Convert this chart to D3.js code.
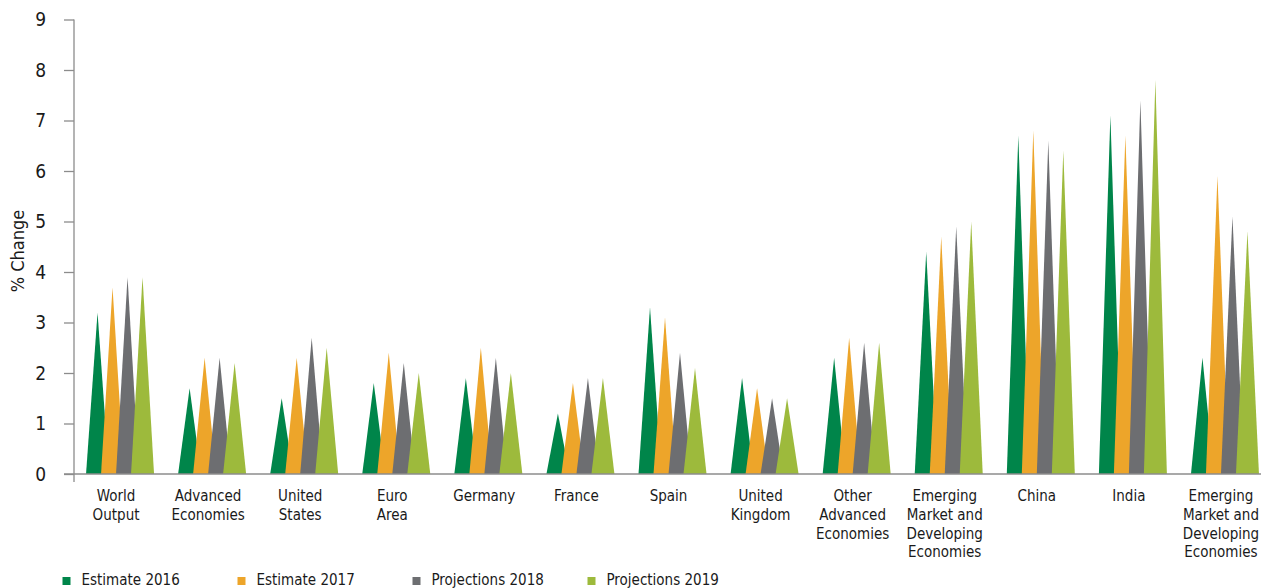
<!DOCTYPE html>
<html>
<head>
<meta charset="utf-8">
<script src="https://cdn.jsdelivr.net/npm/d3@7"></script>
<style>
  html, body { margin: 0; padding: 0; background: #fff; }
  svg { display: block; }
  .lbl { font-family: "Liberation Sans Narrow", "DejaVu Sans Condensed", "Noto Sans", sans-serif; fill: #1a1a1a; }
</style>
</head>
<body>
<script>
// Growth by region, % change
const categories = [
  "World|Output", "Advanced|Economies", "United|States", "Euro|Area", "Germany",
  "France", "Spain", "United|Kingdom", "Other|Advanced|Economies",
  "Emerging|Market and|Developing|Economies", "China", "India",
  "Emerging|Market and|Developing|Economies"
];
const seriesNames = ["Estimate 2016", "Estimate 2017", "Projections 2018", "Projections 2019"];
const est2016  = [3.2, 1.7, 1.5, 1.8, 1.9, 1.2, 3.3, 1.9, 2.3, 4.4, 6.7, 7.1, 2.3];
const est2017  = [3.7, 2.3, 2.3, 2.4, 2.5, 1.8, 3.1, 1.7, 2.7, 4.7, 6.8, 6.7, 5.9];
const proj2018 = [3.9, 2.3, 2.7, 2.2, 2.3, 1.9, 2.4, 1.5, 2.6, 4.9, 6.6, 7.4, 5.1];
const proj2019 = [3.9, 2.2, 2.5, 2.0, 2.0, 1.9, 2.1, 1.5, 2.6, 5.0, 6.4, 7.8, 4.8];
const yTicks = [0, 1, 2, 3, 4, 5, 6, 7, 8, 9];
const colors = ["#00854a", "#eda52a", "#6d6e71", "#9dba3c"];

const seriesValues = [est2016, est2017, proj2018, proj2019];

const W = 1261, H = 588;
const svg = d3.select("body").append("svg").attr("width", W).attr("height", H);

const x0 = d3.scaleBand().domain(d3.range(categories.length)).range([74, 1271]);
const x1 = d3.scaleBand().domain(seriesNames).range([-30, 30]);
const y = d3.scaleLinear().domain([0, 9]).range([474, 19.5]);
const halfBase = 11.5;
const axisColor = "#8c8c8c";

// spike marks, drawn series by series so later years overlap earlier ones
seriesNames.forEach((name, si) => {
  svg.append("g")
    .selectAll("path")
    .data(seriesValues[si])
    .join("path")
    .attr("fill", colors[si])
    .attr("d", (v, i) => {
      const cx = x0(i) + x0.bandwidth() / 2 + x1(name) + x1.bandwidth() / 2;
      return `M${cx - halfBase},${y(0)}L${cx},${y(v)}L${cx + halfBase},${y(0)}Z`;
    });
});

// y axis
const yAxis = svg.append("g")
  .attr("transform", "translate(74,0)")
  .call(d3.axisLeft(y).tickValues(yTicks).tickSize(10).tickPadding(18).tickSizeOuter(0));
yAxis.select(".domain").remove();
yAxis.selectAll(".tick line").attr("stroke", axisColor).attr("stroke-width", 1.3);
yAxis.selectAll(".tick text")
  .attr("class", "lbl")
  .style("font-size", "19px")
  .attr("fill", "#1a1a1a");

svg.append("line")
  .attr("x1", 74).attr("x2", 74)
  .attr("y1", y(9)).attr("y2", 482)
  .attr("stroke", axisColor).attr("stroke-width", 1.3);

// x axis baseline
svg.append("line")
  .attr("x1", 64).attr("x2", W)
  .attr("y1", y(0)).attr("y2", y(0))
  .attr("stroke", axisColor).attr("stroke-width", 1.3);

// category labels
const catG = svg.append("g");
categories.forEach((c, i) => {
  const cx = x0(i) + x0.bandwidth() / 2 - 4;
  const t = catG.append("text")
    .attr("class", "lbl")
    .attr("text-anchor", "middle")
    .style("font-size", "15px")
    .attr("x", cx)
    .attr("y", 501);
  c.split("|").forEach((line, li) => {
    t.append("tspan")
      .attr("x", cx)
      .attr("dy", li === 0 ? 0 : 18.8)
      .text(line);
  });
});

// y axis title
svg.append("text")
  .attr("class", "lbl")
  .attr("text-anchor", "middle")
  .style("font-size", "18px")
  .attr("transform", "translate(24,251) rotate(-90)")
  .text("% Change");

// legend
const legend = svg.append("g");
seriesNames.forEach((name, i) => {
  const g = legend.append("g").attr("transform", `translate(${62.5 + i * 175},0)`);
  g.append("rect").attr("x", 0).attr("y", 577).attr("width", 8).attr("height", 8).attr("fill", colors[i]);
  g.append("text")
    .attr("class", "lbl")
    .style("font-size", "15px")
    .attr("x", 19).attr("y", 585)
    .text(name);
});
</script>
</body>
</html>
